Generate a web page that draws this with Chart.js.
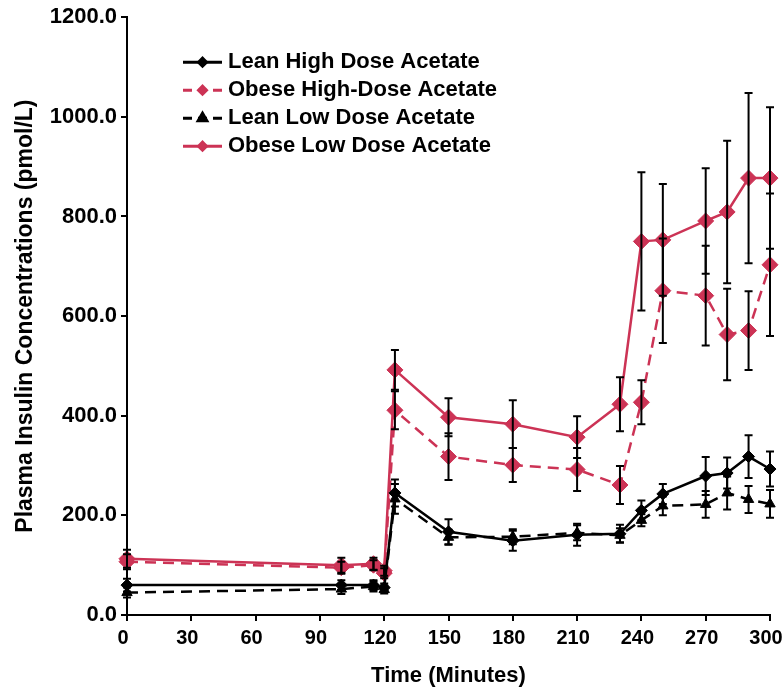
<!DOCTYPE html>
<html>
<head>
<meta charset="utf-8">
<script src="https://cdn.jsdelivr.net/npm/chart.js@4"></script>
<style>
  body { margin: 0; background: #fff; }
  canvas { display: block; }
</style>
</head>
<body>
<canvas id="insulinChart" width="783" height="692"></canvas>
<script>
// time points (minutes)
const times = [0, 100, 115, 120, 125, 150, 180, 210, 230, 240, 250, 270, 280, 290, 300];

// plasma insulin (pmol/L), mean and SEM
const leanHigh = [60, 60, 60, 55, 245, 167, 149, 161, 163, 210, 243, 279, 285, 318, 293];
const leanHighErr = [13, 10, 10, 8, 27, 25, 20, 22, 18, 20, 20, 38, 31, 43, 35];
const obeseHigh = [107, 95, 100, 84, 411, 318, 301, 292, 261, 427, 651, 641, 563, 571, 703];
const obeseHighErr = [15, 12, 10, 10, 38, 47, 34, 43, 38, 44, 105, 100, 92, 79, 143];
const leanLow = [45, 52, 57, 51, 233, 156, 157, 165, 160, 190, 219, 222, 245, 232, 223];
const leanLowErr = [10, 10, 10, 8, 30, 15, 15, 15, 14, 12, 19, 27, 33, 27, 28];
const obeseLow = [113, 100, 103, 89, 492, 397, 383, 357, 423, 750, 753, 791, 809, 877, 877];
const obeseLowErr = [18, 15, 12, 10, 40, 38, 48, 42, 54, 139, 112, 106, 143, 171, 142];

const seriesLabels = [
  'Lean High Dose Acetate',
  'Obese High-Dose Acetate',
  'Lean Low Dose Acetate',
  'Obese Low Dose Acetate'
];

const RED = '#cc3355';
const FONT = "'Liberation Sans', Arial, sans-serif";

const toPoints = (vals) => vals.map((v, i) => ({ x: times[i], y: v }));

const makeSet = (label, vals, errs, color, dashed, shape, radius) => ({
  label,
  data: toPoints(vals),
  errors: errs,
  borderColor: color,
  backgroundColor: color,
  borderWidth: 2.5,
  borderDash: dashed ? [11, 7] : [],
  pointStyle: shape,
  pointRadius: radius,
  pointHoverRadius: radius,
  pointBorderWidth: 1,
  clip: false,
  tension: 0
});

// vertical error bars with caps, drawn through the scales
const errorBars = {
  id: 'errorBars',
  afterDatasetsDraw(chart) {
    const { ctx, scales: { x, y } } = chart;
    ctx.save();
    ctx.strokeStyle = '#000';
    ctx.lineWidth = 2;
    ctx.setLineDash([]);
    chart.data.datasets.forEach((ds) => {
      ds.data.forEach((p, i) => {
        const e = ds.errors[i];
        const px = x.getPixelForValue(p.x);
        const top = y.getPixelForValue(p.y + e);
        const bot = y.getPixelForValue(p.y - e);
        ctx.beginPath();
        ctx.moveTo(px, top);
        ctx.lineTo(px, bot);
        ctx.moveTo(px - 4, top);
        ctx.lineTo(px + 4, top);
        ctx.moveTo(px - 4, bot);
        ctx.lineTo(px + 4, bot);
        ctx.stroke();
      });
    });
    ctx.restore();
  }
};

// legend inside the plot area: line sample with marker, then label
const insideLegend = {
  id: 'insideLegend',
  afterDraw(chart) {
    const { ctx, chartArea } = chart;
    ctx.save();
    chart.data.datasets.forEach((ds, i) => {
      const yy = chartArea.top + 45 + i * 28;
      const x0 = chartArea.left + 56;
      const x1 = chartArea.left + 95;
      ctx.strokeStyle = ds.borderColor;
      ctx.lineWidth = 3;
      ctx.setLineDash(ds.borderDash.length ? [9, 6] : []);
      ctx.beginPath();
      ctx.moveTo(x0, yy);
      ctx.lineTo(x1, yy);
      ctx.stroke();
      ctx.setLineDash([]);
      Chart.helpers.drawPoint(ctx, {
        pointStyle: ds.pointStyle,
        radius: ds.pointStyle === 'triangle' ? 5 : 4,
        borderWidth: 1,
        rotation: 0
      }, (x0 + x1) / 2, yy);
      ctx.fillStyle = ds.borderColor;
      ctx.fill();
      ctx.fillStyle = '#000';
      ctx.font = `bold 22px ${FONT}`;
      ctx.textBaseline = 'middle';
      ctx.textAlign = 'left';
      ctx.fillText(ds.label, x1 + 6, yy);
    });
    ctx.restore();
  }
};

new Chart(document.getElementById('insulinChart'), {
  type: 'line',
  data: {
    datasets: [
      makeSet(seriesLabels[0], leanHigh, leanHighErr, '#000', false, 'rectRot', 6),
      makeSet(seriesLabels[1], obeseHigh, obeseHighErr, RED, true, 'rectRot', 8),
      makeSet(seriesLabels[2], leanLow, leanLowErr, '#000', true, 'triangle', 6),
      makeSet(seriesLabels[3], obeseLow, obeseLowErr, RED, false, 'rectRot', 8)
    ]
  },
  options: {
    responsive: false,
    animation: false,
    layout: { padding: { left: 0, top: 15, right: 13, bottom: 0 } },
    plugins: {
      legend: { display: false },
      tooltip: { enabled: false }
    },
    scales: {
      x: {
        type: 'linear',
        min: 0,
        max: 300,
        afterFit(scale) {
          scale.height = 77;
          scale.paddingLeft = 0;
          scale.paddingRight = 0;
        },
        ticks: {
          stepSize: 30,
          color: '#000',
          padding: 5,
          labelOffset: -4,
          font: { family: FONT, size: 20, weight: 'bold' },
          maxRotation: 0
        },
        grid: {
          drawOnChartArea: false,
          drawTicks: true,
          tickLength: 6,
          color: '#000',
          lineWidth: 2
        },
        border: { display: true, color: '#000', width: 2 },
        title: {
          display: true,
          text: 'Time (Minutes)',
          color: '#000',
          font: { family: FONT, size: 22, weight: 'bold' },
          padding: { top: 0, bottom: 3 }
        }
      },
      y: {
        min: 0,
        max: 1200,
        afterFit(scale) {
          scale.width = 127;
        },
        ticks: {
          stepSize: 200,
          color: '#000',
          padding: 4,
          font: { family: FONT, size: 22, weight: 'bold' },
          callback: (v) => v.toFixed(1)
        },
        grid: {
          drawOnChartArea: false,
          drawTicks: true,
          tickLength: 6,
          color: '#000',
          lineWidth: 2
        },
        border: { display: true, color: '#000', width: 2 },
        title: {
          display: true,
          text: 'Plasma Insulin Concentrations (pmol/L)',
          color: '#000',
          font: { family: FONT, size: 23, weight: 'bold' },
          padding: { top: 12, bottom: 0 }
        }
      }
    }
  },
  plugins: [errorBars, insideLegend]
});
</script>
</body>
</html>
